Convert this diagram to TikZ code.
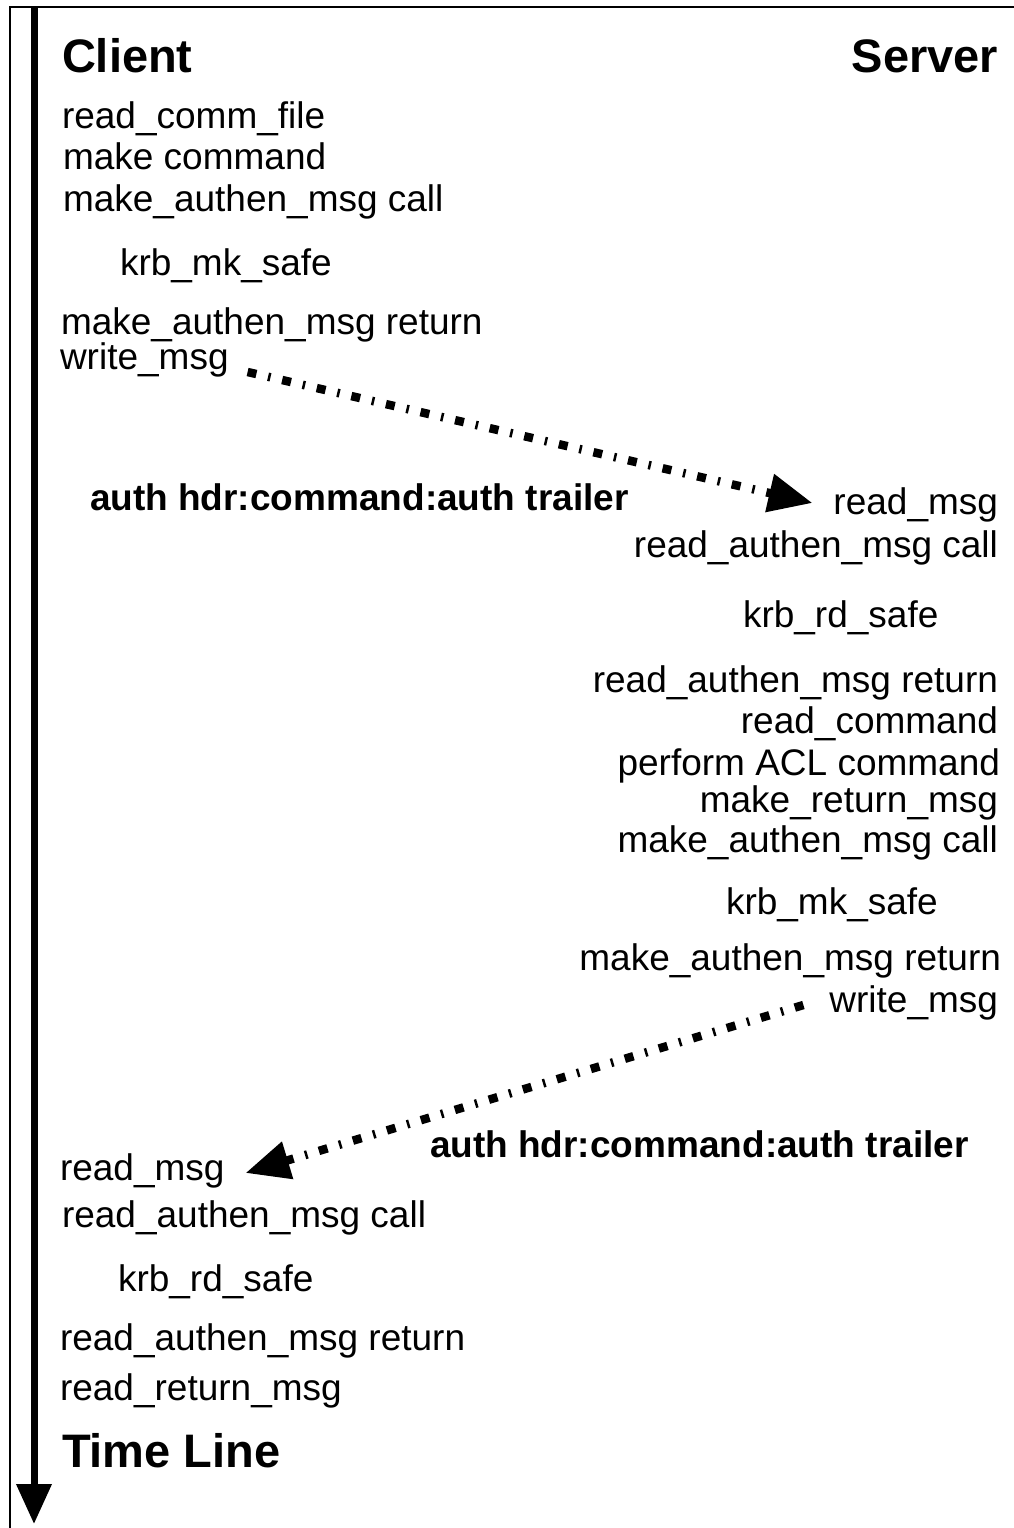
\documentclass[tikz,border=0pt]{standalone}
\usepackage{fontspec}
\setmainfont{Liberation Sans}
\usetikzlibrary{arrows.meta}

\begin{document}
\begin{tikzpicture}[x=1pt,y=-1pt,
  lbl/.style={inner sep=0pt,outer sep=0pt,font=\fontsize{37}{44}\selectfont},
  hdr/.style={inner sep=0pt,outer sep=0pt,font=\fontsize{47}{56}\selectfont\bfseries},
  msglbl/.style={inner sep=0pt,outer sep=0pt,font=\fontsize{37}{44}\selectfont\bfseries},
  msgarrow/.style={line width=8.5pt,line cap=butt,
    dash pattern=on 9pt off 12pt on 2.5pt off 12pt,
    -{Triangle[length=44pt,width=37pt]}},
  frameline/.style={line width=2.5pt},
]
\useasboundingbox (0,0) rectangle (1014,1528);

% outer frame (left and top edges)
\draw[frameline] (10,1528) -- (10,7) -- (1014,7);

% time line
\coordinate (tltop) at (34,7);
\coordinate (tlend) at (34,1524);
\draw[line width=7pt,-{Triangle[length=40pt,width=34pt]}] (tltop) -- (tlend);

% headings
\node[hdr,anchor=base west] (client) at (62,72) {Client};
\node[hdr,anchor=base east] (server) at (998,72) {Server};
\node[hdr,anchor=base west] (timeline) at (62,1467) {Time Line};

% client: building and sending the request
\node[lbl,anchor=base west] (c1) at (62,128) {read\_comm\_file};
\node[lbl,anchor=base west] (c2) at (63,169) {make command};
\node[lbl,anchor=base west] (c3) at (63,211) {make\_authen\_msg call};
\node[lbl,anchor=base west] (c4) at (120,275) {krb\_mk\_safe};
\node[lbl,anchor=base west] (c5) at (61,334) {make\_authen\_msg return};
\node[lbl,anchor=base west] (c6) at (60,369) {write\_msg};
\node[msglbl,anchor=base west] (m1) at (90,510) {auth hdr:command:auth trailer};

% server: handling the request and replying
\node[lbl,anchor=base east] (s1) at (998,514) {read\_msg};
\node[lbl,anchor=base east] (s2) at (998,557) {read\_authen\_msg call};
\node[lbl,anchor=base west] (s3) at (743,627) {krb\_rd\_safe};
\node[lbl,anchor=base east] (s4) at (998,692) {read\_authen\_msg return};
\node[lbl,anchor=base east] (s5) at (998,733) {read\_command};
\node[lbl,anchor=base east] (s6) at (1000,775) {perform ACL command};
\node[lbl,anchor=base east] (s7) at (998,812) {make\_return\_msg};
\node[lbl,anchor=base east] (s8) at (998,852) {make\_authen\_msg call};
\node[lbl,anchor=base west] (s9) at (726,914) {krb\_mk\_safe};
\node[lbl,anchor=base east] (s10) at (1001,970) {make\_authen\_msg return};
\node[lbl,anchor=base east] (s11) at (998,1012) {write\_msg};
\node[msglbl,anchor=base west] (m2) at (430,1157) {auth hdr:command:auth trailer};

% client: receiving the reply
\node[lbl,anchor=base west] (r1) at (60,1180) {read\_msg};
\node[lbl,anchor=base west] (r2) at (62,1227) {read\_authen\_msg call};
\node[lbl,anchor=base west] (r3) at (118,1291) {krb\_rd\_safe};
\node[lbl,anchor=base west] (r4) at (60,1350) {read\_authen\_msg return};
\node[lbl,anchor=base west] (r5) at (60,1400) {read\_return\_msg};

% messages
\draw[msgarrow] ([shift={(19,3)}]c6.base east) -- ([shift={(-21,-11)}]s1.base west);
\draw[msgarrow] ([shift={(-26,-7)}]s11.base west) -- ([shift={(21,-7)}]r1.base east);
\end{tikzpicture}
\end{document}
